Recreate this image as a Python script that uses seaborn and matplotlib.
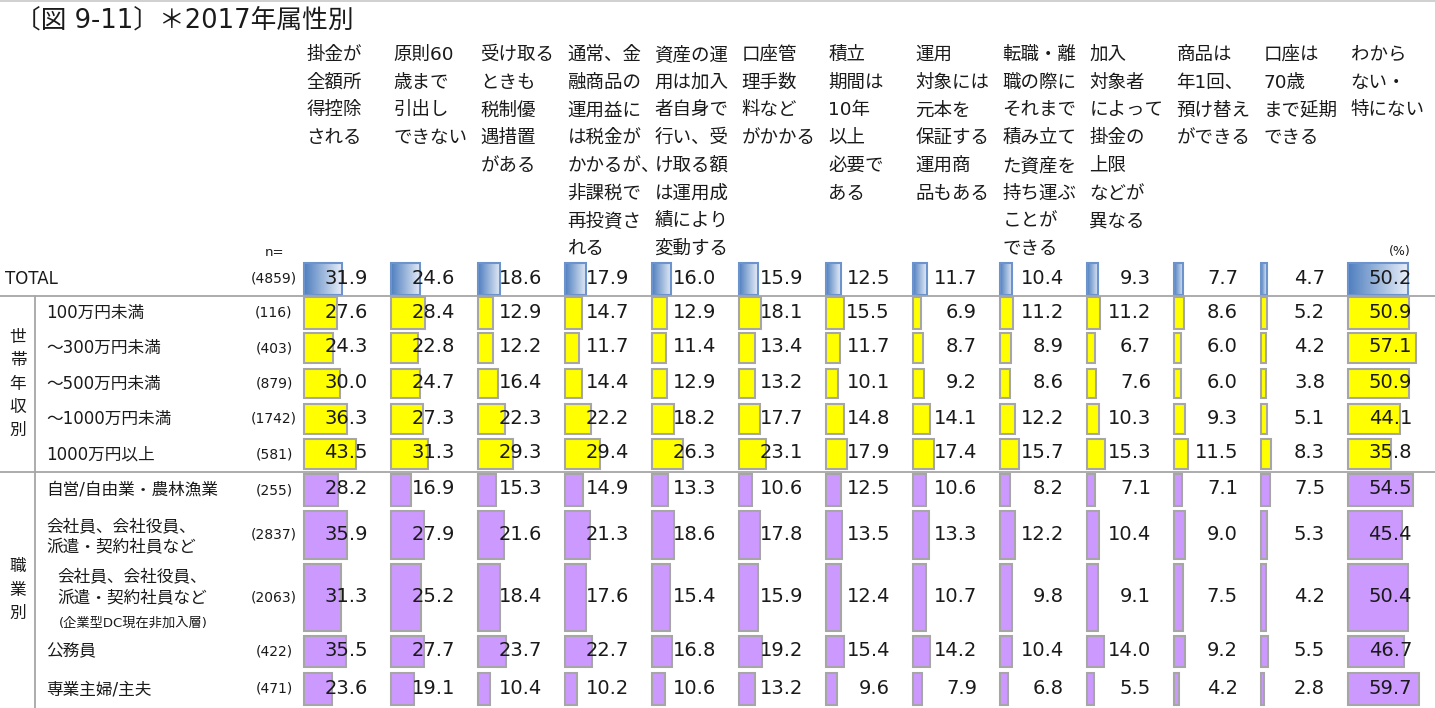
import numpy as np
import pandas as pd
import matplotlib
matplotlib.use("Agg")
import matplotlib.pyplot as plt
import seaborn as sns
from matplotlib.colors import LinearSegmentedColormap

# ---- data -------------------------------------------------------------
title = "〔図 9-11〕＊2017年属性別"

headers = [
    ["掛金が", "全額所", "得控除", "される"],
    ["原則60", "歳まで", "引出し", "できない"],
    ["受け取る", "ときも", "税制優", "遇措置", "がある"],
    ["通常、金", "融商品の", "運用益に", "は税金が", "かかるが、", "非課税で", "再投資さ", "れる"],
    ["資産の運", "用は加入", "者自身で", "行い、受", "け取る額", "は運用成", "績により", "変動する"],
    ["口座管", "理手数", "料など", "がかかる"],
    ["積立", "期間は", "10年", "以上", "必要で", "ある"],
    ["運用", "対象には", "元本を", "保証する", "運用商", "品もある"],
    ["転職・離", "職の際に", "それまで", "積み立て", "た資産を", "持ち運ぶ", "ことが", "できる"],
    ["加入", "対象者", "によって", "掛金の", "上限", "などが", "異なる"],
    ["商品は", "年1回、", "預け替え", "ができる"],
    ["口座は", "70歳", "まで延期", "できる"],
    ["わから", "ない・", "特にない"],
]

row_labels = [
    ["TOTAL"],
    ["100万円未満"],
    ["～300万円未満"],
    ["～500万円未満"],
    ["～1000万円未満"],
    ["1000万円以上"],
    ["自営/自由業・農林漁業"],
    ["会社員、会社役員、", "派遣・契約社員など"],
    ["会社員、会社役員、", "派遣・契約社員など", "(企業型DC現在非加入層)"],
    ["公務員"],
    ["専業主婦/主夫"],
]
row_group = ["total", "income", "income", "income", "income", "income",
             "job", "job", "job", "job", "job"]
sample_n = [4859, 116, 403, 879, 1742, 581, 255, 2837, 2063, 422, 471]

total_row   = [31.9, 24.6, 18.6, 17.9, 16.0, 15.9, 12.5, 11.7, 10.4, 9.3, 7.7, 4.7, 50.2]
inc_u100    = [27.6, 28.4, 12.9, 14.7, 12.9, 18.1, 15.5, 6.9, 11.2, 11.2, 8.6, 5.2, 50.9]
inc_u300    = [24.3, 22.8, 12.2, 11.7, 11.4, 13.4, 11.7, 8.7, 8.9, 6.7, 6.0, 4.2, 57.1]
inc_u500    = [30.0, 24.7, 16.4, 14.4, 12.9, 13.2, 10.1, 9.2, 8.6, 7.6, 6.0, 3.8, 50.9]
inc_u1000   = [36.3, 27.3, 22.3, 22.2, 18.2, 17.7, 14.8, 14.1, 12.2, 10.3, 9.3, 5.1, 44.1]
inc_o1000   = [43.5, 31.3, 29.3, 29.4, 26.3, 23.1, 17.9, 17.4, 15.7, 15.3, 11.5, 8.3, 35.8]
job_self    = [28.2, 16.9, 15.3, 14.9, 13.3, 10.6, 12.5, 10.6, 8.2, 7.1, 7.1, 7.5, 54.5]
job_company = [35.9, 27.9, 21.6, 21.3, 18.6, 17.8, 13.5, 13.3, 12.2, 10.4, 9.0, 5.3, 45.4]
job_comp_dc = [31.3, 25.2, 18.4, 17.6, 15.4, 15.9, 12.4, 10.7, 9.8, 9.1, 7.5, 4.2, 50.4]
job_public  = [35.5, 27.7, 23.7, 22.7, 16.8, 19.2, 15.4, 14.2, 10.4, 14.0, 9.2, 5.5, 46.7]
job_home    = [23.6, 19.1, 10.4, 10.2, 10.6, 13.2, 9.6, 7.9, 6.8, 5.5, 4.2, 2.8, 59.7]

values = pd.DataFrame(
    [total_row, inc_u100, inc_u300, inc_u500, inc_u1000, inc_o1000,
     job_self, job_company, job_comp_dc, job_public, job_home]
)

# ---- layout (pixels) --------------------------------------------------
W, H = 1435, 708
col_x0, col_w = 304, 87
px_per_pct = 1.19
row_top = [263, 297, 333, 369, 404, 439, 474, 511, 564, 636, 673]
row_bot = [295, 329, 363, 398, 434, 469, 506, 559, 631, 667, 705]
row_mid = [(a + b) / 2 for a, b in zip(row_top, row_bot)]
row_hgt = [b - a for a, b in zip(row_top, row_bot)]

sns.set_theme(style="white")
plt.rcParams["font.family"] = ["DejaVu Sans", "Noto Sans CJK JP"]
plt.rcParams["text.color"] = "#1a1a1a"

fig = plt.figure(figsize=(W / 100, H / 100), dpi=100)
fig.patch.set_facecolor("white")

grid_c = "#a6a6a6"
fill_c = {"income": "#ffff00", "job": "#cc99ff"}
blue_cmap = LinearSegmentedColormap.from_list("tot", ["#4f7fbf", "#e8eef8"])
grad = np.linspace(0, 1, 256).reshape(1, -1)

# bars, one axes per answer column with a percentage x-scale
for i in range(len(headers)):
    cx = col_x0 + col_w * i
    cax = fig.add_axes([cx / W, 0, col_w / W, 1])
    cax.set_facecolor("none")
    col_vals = values[i].to_numpy()
    for r, v in enumerate(col_vals):
        if row_group[r] == "total":
            cax.imshow(grad, cmap=blue_cmap, aspect="auto",
                       extent=[0, v, row_bot[r], row_top[r]], zorder=1)
            cax.barh(row_mid[r], v, height=row_hgt[r], left=0, fill=False,
                     edgecolor="#6d93cc", linewidth=1.5, zorder=2, clip_on=False)
        else:
            cax.barh(row_mid[r], v, height=row_hgt[r], left=0,
                     color=fill_c[row_group[r]], edgecolor=grid_c,
                     linewidth=1.5, zorder=2, clip_on=False)
    cax.set_xlim(0, col_w / px_per_pct)
    cax.set_ylim(H, 0)
    cax.axis("off")

# overlay axes in pixel units for rules and all text
ax = fig.add_axes([0, 0, 1, 1])
ax.set_facecolor("none")
ax.set_xlim(0, W)
ax.set_ylim(H, 0)
ax.axis("off")

ax.text(15, 20, title, fontsize=18.5, ha="left", va="center")

ax.plot([0, W], [1, 1], color="#c8c8c8", lw=1.2)
ax.plot([0, W], [296, 296], color=grid_c, lw=1.3)
ax.plot([0, W], [472, 472], color=grid_c, lw=1.3)
ax.plot([35, 35], [296, H], color=grid_c, lw=1.3)

for i, lines in enumerate(headers):
    cx = col_x0 + col_w * i
    for j, line in enumerate(lines):
        ax.text(cx + 2.5, 55 + j * 27.7, line, fontsize=13.3, ha="left", va="center")

ax.text(274, 252, "n=", fontsize=9.5, ha="center", va="center")
ax.text(1400, 252, "(%)", fontsize=9, ha="center", va="center")

for r, lines in enumerate(row_labels):
    if r == 0:
        ax.text(5, row_mid[r], lines[0], fontsize=12, ha="left", va="center")
    elif len(lines) == 1:
        ax.text(46, row_mid[r], lines[0], fontsize=12, ha="left", va="center")
    elif len(lines) == 2:
        ax.text(46, 526, lines[0], fontsize=12, ha="left", va="center")
        ax.text(46, 547, lines[1], fontsize=12, ha="left", va="center")
    else:
        ax.text(57, 576, lines[0], fontsize=12, ha="left", va="center")
        ax.text(57, 598, lines[1], fontsize=12, ha="left", va="center")
        ax.text(59, 623, lines[2], fontsize=9.5, ha="left", va="center")
    ax.text(274, row_mid[r], f"({sample_n[r]})", fontsize=10, ha="center", va="center")

for k, ch in enumerate("世帯年収別"):
    ax.text(18, 337 + k * 23.3, ch, fontsize=12, ha="center", va="center")
for k, ch in enumerate("職業別"):
    ax.text(18, 566 + k * 23.5, ch, fontsize=12, ha="center", va="center")

for i in range(len(headers)):
    cx = col_x0 + col_w * i
    for r, v in enumerate(values[i]):
        ax.text(cx + 64, row_mid[r] - 1, f"{v:.1f}", fontsize=14,
                ha="right", va="center")

fig.savefig("out.png", dpi=100, facecolor="white")
